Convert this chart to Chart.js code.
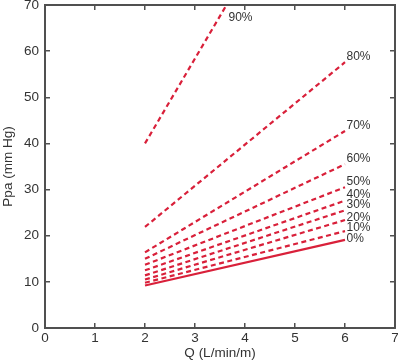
<!DOCTYPE html>
<html>
<head>
<meta charset="utf-8">
<script src="https://cdn.jsdelivr.net/npm/chart.js@4.4.1/dist/chart.umd.min.js"></script>
<style>
html,body{margin:0;padding:0;background:#fff;}
#wrap{width:398px;height:361px;}
</style>
</head>
<body>
<div id="wrap"><canvas id="c" width="398" height="361"></canvas></div>
<script>
// ---- data ----
const seriesLabels = ['0%','10%','20%','30%','40%','50%','60%','70%','80%','90%'];
const qStart = [2, 2, 2, 2, 2, 2, 2, 2, 2, 2];
const qEnd   = [6, 6, 6, 6, 6, 6, 6, 6, 6, 3.63];
const ppaStart = [9.2, 9.8, 10.5, 11.4, 12.5, 13.7, 15.0, 16.4, 21.9, 40.0];
const ppaEnd   = [19.1, 21.0, 23.4, 25.5, 27.6, 30.5, 35.5, 42.7, 57.6, 70.0];
const xTicks = [0,1,2,3,4,5,6,7];
const yTicks = [0,10,20,30,40,50,60,70];

const RED = '#d9203a';
const FRAME = 'rgb(80,80,80)';
const FONT = '"Liberation Sans", Arial, Helvetica, sans-serif';

const datasets = seriesLabels.map((lab, i) => ({
  label: lab,
  data: [{x: qStart[i], y: ppaStart[i]}, {x: qEnd[i], y: ppaEnd[i]}],
  borderColor: RED,
  backgroundColor: RED,
  borderWidth: 2.2,
  borderDash: i === 0 ? [] : [5, 3.5],
  pointRadius: 0,
  fill: false,
  tension: 0,
  xAxisID: 'x',
  yAxisID: 'y'
}));

const labelPlugin = {
  id: 'seriesLabels',
  afterDatasetsDraw(chart) {
    const ctx = chart.ctx;
    const a = chart.chartArea;
    const xs = chart.scales.x, ys = chart.scales.y;
    ctx.save();
    ctx.fillStyle = '#333';
    ctx.font = '12px ' + FONT;
    ctx.textAlign = 'left';
    ctx.textBaseline = 'middle';
    let prevY = Infinity;
    chart.data.datasets.forEach((ds, i) => {
      const p = ds.data[ds.data.length - 1];
      const px = xs.getPixelForValue(p.x);
      const py = ys.getPixelForValue(p.y);
      let lx, ly;
      if (py <= a.top + 1) {
        lx = px + 2; ly = py + 13;
      } else {
        lx = px + 1.5; ly = py - (i < 3 ? 1.5 : 5.5);
        if (ly > prevY - 10.5) ly = prevY - 10.5;
        prevY = ly;
      }
      ctx.fillText(ds.label, lx, ly);
    });
    ctx.restore();
  }
};

const gridOpts = { display: true, drawOnChartArea: false, drawTicks: true, tickLength: -5, color: FRAME, lineWidth: 1.5 };
const borderOpts = { display: true, color: FRAME, width: 2 };

new Chart(document.getElementById('c'), {
  type: 'line',
  data: { datasets },
  plugins: [labelPlugin],
  options: {
    responsive: false,
    animation: false,
    devicePixelRatio: 1,
    layout: { padding: { top: 5, right: 3, left: 0, bottom: 0 } },
    plugins: { legend: { display: false }, tooltip: { enabled: false } },
    scales: {
      x: {
        type: 'linear', position: 'bottom',
        min: 0, max: 7,
        afterBuildTicks(s) { s.ticks = xTicks.map(v => ({value: v})); },
        afterFit(s) { s.height = 33; s.paddingLeft = 0; s.paddingRight = 0; },
        grid: gridOpts,
        border: borderOpts,
        ticks: { color: '#333', font: { family: FONT, size: 13.5 }, padding: 7, maxRotation: 0 },
        title: { display: true, text: 'Q (L/min/m)', color: '#333', font: { family: FONT, size: 13.5 }, padding: 0 }
      },
      x2: {
        type: 'linear', position: 'top',
        min: 0, max: 7,
        afterBuildTicks(s) { s.ticks = xTicks.map(v => ({value: v})); },
        afterFit(s) { s.height = 0; s.paddingLeft = 0; s.paddingRight = 0; },
        grid: gridOpts,
        border: borderOpts,
        ticks: { display: false }
      },
      y: {
        type: 'linear', position: 'left',
        min: 0, max: 70,
        afterBuildTicks(s) { s.ticks = yTicks.map(v => ({value: v})); },
        afterFit(s) { s.width = 45; s.paddingTop = 0; s.paddingBottom = 0; },
        grid: gridOpts,
        border: borderOpts,
        ticks: { color: '#333', font: { family: FONT, size: 13.5 }, padding: 11 },
        title: { display: true, text: 'Ppa (mm Hg)', color: '#333', font: { family: FONT, size: 13.5 }, padding: 0 }
      },
      y2: {
        type: 'linear', position: 'right',
        min: 0, max: 70,
        afterBuildTicks(s) { s.ticks = yTicks.map(v => ({value: v})); },
        afterFit(s) { s.width = 0; s.paddingTop = 0; s.paddingBottom = 0; },
        grid: gridOpts,
        border: borderOpts,
        ticks: { display: false }
      }
    }
  }
});
</script>
</body>
</html>
